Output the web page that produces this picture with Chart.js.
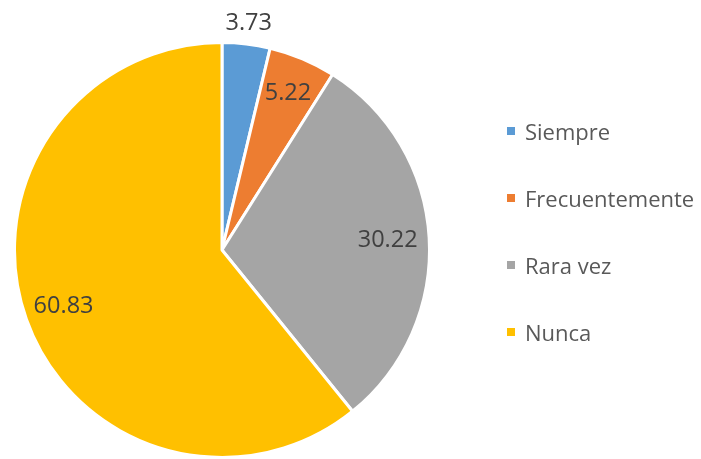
<!DOCTYPE html>
<html>
<head>
<meta charset="utf-8">
<script src="https://cdn.jsdelivr.net/npm/chart.js@4.4.0/dist/chart.umd.min.js"></script>
<style>
  html, body { margin: 0; padding: 0; background: #fff; }
  .wrap { position: relative; width: 701px; height: 459px; }
  #legend {
    position: absolute; left: 507px; top: 97px;
    list-style: none; margin: 0; padding: 0;
    font-family: "Open Sans", sans-serif; font-size: 22px; color: #595959;
  }
  #legend li { display: flex; align-items: center; height: 67px; white-space: nowrap; }
  #legend .box { width: 8px; height: 8px; margin-right: 10px; flex: none; }
</style>
</head>
<body>
<div class="wrap">
  <canvas id="pie" width="701" height="459"></canvas>
  <ul id="legend"></ul>
</div>
<script>
// frecuencia de respuesta (%)
const categories = ['Siempre', 'Frecuentemente', 'Rara vez', 'Nunca'];
const values = [3.73, 5.22, 30.22, 60.83];
const colors = ['#5B9BD5', '#ED7D31', '#A5A5A5', '#FFC000'];

// distancia de cada etiqueta al centro, relativa al radio
const labelRadius = [1.1, 0.82, 0.8, 0.81];

// etiquetas de valor sobre cada sector
const valueLabels = {
    id: 'valueLabels',
    afterDatasetsDraw(chart) {
        const ctx = chart.ctx;
        const meta = chart.getDatasetMeta(0);
        ctx.save();
        ctx.font = '23.5px "Open Sans", sans-serif';
        ctx.fillStyle = '#404040';
        ctx.textAlign = 'center';
        ctx.textBaseline = 'middle';
        meta.data.forEach((arc, i) => {
            const mid = (arc.startAngle + arc.endAngle) / 2;
            const r = arc.outerRadius * labelRadius[i];
            ctx.fillText(values[i].toFixed(2), arc.x + Math.cos(mid) * r, arc.y + Math.sin(mid) * r);
        });
        ctx.restore();
    }
};

const chart = new Chart(document.getElementById('pie'), {
    type: 'pie',
    data: {
        labels: categories,
        datasets: [{
            data: values,
            backgroundColor: colors,
            borderColor: '#ffffff',
            borderWidth: 3
        }]
    },
    options: {
        responsive: false,
        animation: false,
        layout: { padding: { left: 13, right: 270, top: 41, bottom: 0 } },
        plugins: {
            legend: { display: false },
            tooltip: { enabled: false }
        }
    },
    plugins: [valueLabels]
});

// leyenda a la derecha
const legend = document.getElementById('legend');
categories.forEach((name, i) => {
    const li = document.createElement('li');
    li.innerHTML = `<span class="box" style="background:${colors[i]}"></span>${name}`;
    legend.appendChild(li);
});
</script>
</body>
</html>
